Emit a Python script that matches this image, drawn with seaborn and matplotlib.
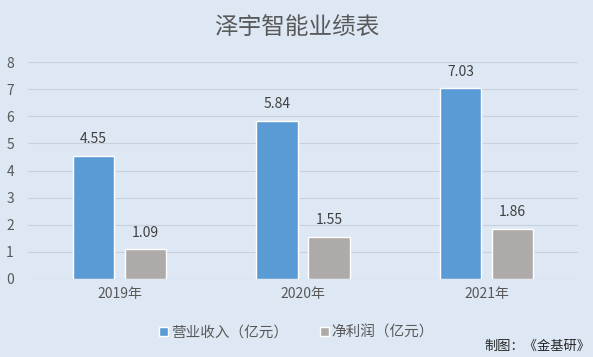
import matplotlib
matplotlib.use("Agg")
import matplotlib.pyplot as plt
import seaborn as sns
import pandas as pd
from matplotlib.patches import Patch

years = ["2019年", "2020年", "2021年"]
series_names = ["营业收入（亿元）", "净利润（亿元）"]
revenue = [4.55, 5.84, 7.03]
profit = [1.09, 1.55, 1.86]
yticks = [0, 1, 2, 3, 4, 5, 6, 7, 8]

df = pd.DataFrame({
    "year": years * 2,
    "series": [series_names[0]] * 3 + [series_names[1]] * 3,
    "value": revenue + profit,
})

sns.set_theme(style="white")
plt.rcParams["font.family"] = ["Noto Sans CJK SC", "DejaVu Sans"]

bg = "#dde8f4"
colors = ["#5b9bd5", "#aeaaaa"]
txt = "#595959"

fig = plt.figure(figsize=(5.93, 3.57), dpi=100, facecolor=bg)
ax = fig.add_axes([0.047, 0.2185, 0.928, 0.6075])
ax.set_facecolor(bg)

sns.barplot(data=df, x="year", y="value", hue="series", palette=colors,
            width=0.568, gap=0.21, ax=ax, legend=False, saturation=1)

for c in ax.containers:
    ax.bar_label(c, fmt="%.2f", padding=7, fontsize=10, color="#404040")

ax.set_ylim(0, 8)
ax.set_xlim(-0.5, 2.5)
ax.set_yticks(yticks)
ax.set_yticklabels([str(v) for v in yticks], fontsize=10, color=txt)
ax.tick_params(axis="x", labelsize=10, labelcolor=txt, length=0, pad=6)
ax.tick_params(axis="y", length=0, pad=10)
ax.set_xlabel("")
ax.set_ylabel("")
ax.yaxis.grid(True, color="#c9d2dc", linewidth=0.8)
ax.set_axisbelow(True)
for s in ax.spines.values():
    s.set_visible(False)
ax.axhline(0, color="#c9d2dc", linewidth=0.8, zorder=0.5)

fig.text(0.5, 0.922, "泽宇智能业绩表", ha="center", va="center", fontsize=17, color=txt)

handles = [Patch(facecolor=colors[i], label=series_names[i]) for i in range(2)]
fig.legend(handles=handles, loc="center", bbox_to_anchor=(0.5, 0.068), ncol=2,
           frameon=False, fontsize=10.5, handlelength=0.6, handleheight=0.6,
           handletextpad=0.2, columnspacing=2.2, labelcolor=txt)

fig.text(0.995, 0.03, "制图：《金基研》", ha="right", va="center", fontsize=9.5, color="#262626")

fig.savefig("out.png", dpi=100, facecolor=bg)
